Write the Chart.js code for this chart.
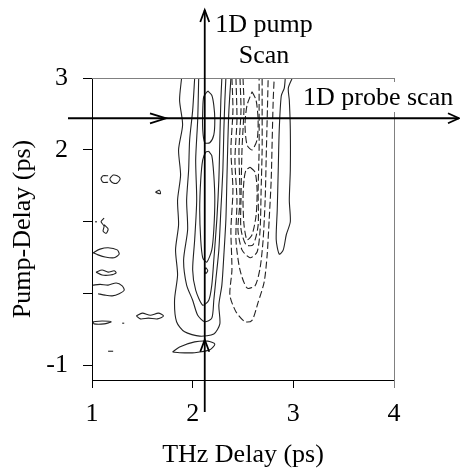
<!DOCTYPE html>
<html>
<head>
<meta charset="utf-8">
<script src="https://cdn.jsdelivr.net/npm/chart.js@4.4.1/dist/chart.umd.min.js"></script>
<style>
  html, body { margin: 0; padding: 0; background: #fff; }
  canvas { display: block; }
</style>
</head>
<body>
<canvas id="contourChart" width="460" height="471"></canvas>
<script>
// Axis ticks
var yTicks = [-1, 0, 1, 2, 3];
var yTickLabels = [-1, 2, 3];

// Where the two 1D scans cut through the map
var pumpScanAt = 2.12;   // THz delay of the 1D pump scan
var probeScanAt = 2.44;  // pump delay of the 1D probe scan
var pumpArrowTip = -0.64;

// Positive contours (solid), points are [THz delay, pump delay]
var pos1 = [[1.89,3.0],[1.87,2.69],[1.9,2.35],[1.86,2.0],[1.88,1.65],[1.85,1.3],[1.86,0.96],[1.83,0.61],[1.85,0.26],[1.82,-0.09],[1.84,-0.39],[1.92,-0.53],[2.07,-0.59],[2.21,-0.56],[2.27,-0.42],[2.26,-0.16],[2.29,0.12],[2.31,0.54],[2.33,1.03],[2.34,1.58],[2.35,2.14],[2.36,2.55],[2.38,3.0]];
var pos2 = [[2.02,3.0],[2.0,2.55],[1.97,2.14],[1.96,1.72],[1.94,1.3],[1.95,0.89],[1.91,0.47],[1.94,0.12],[2.0,-0.09],[2.05,-0.3],[2.12,-0.39],[2.19,-0.34],[2.21,-0.09],[2.23,0.19],[2.26,0.61],[2.28,1.16],[2.3,1.72],[2.31,2.28],[2.32,2.69],[2.33,3.0]];
var pos3 = [[2.06,3.0],[2.05,2.42],[2.03,1.86],[2.04,1.3],[2.02,0.75],[2.0,0.33],[2.03,0.05],[2.1,-0.16],[2.16,-0.09],[2.19,0.12],[2.21,0.47],[2.24,1.03],[2.26,1.58],[2.27,2.14],[2.28,2.69],[2.29,3.0]];
var pos4a = [[2.15,2.82],[2.19,2.76],[2.21,2.62],[2.22,2.42],[2.21,2.21],[2.17,2.1],[2.12,2.1],[2.1,2.28],[2.1,2.55],[2.11,2.74],[2.15,2.82]];
var pos4b = [[2.16,1.98],[2.19,1.92],[2.21,1.65],[2.22,1.3],[2.21,0.89],[2.19,0.61],[2.14,0.44],[2.1,0.5],[2.08,0.75],[2.07,1.16],[2.08,1.58],[2.1,1.86],[2.13,1.97],[2.16,1.98]];
var posDot = [[2.12,0.32],[2.13,0.36],[2.15,0.32],[2.13,0.28],[2.12,0.32]];
var posLens = [[1.8,-0.81],[1.87,-0.74],[2.02,-0.67],[2.15,-0.66],[2.22,-0.7],[2.17,-0.78],[2.02,-0.82],[1.87,-0.82],[1.8,-0.81]];
var posRight = [[2.92,3.0],[2.91,2.86],[2.88,2.75],[2.86,2.28],[2.85,1.72],[2.84,1.16],[2.83,0.75],[2.86,0.55],[2.9,0.61],[2.93,0.82],[2.97,1.0],[2.96,1.3],[2.97,1.72],[2.97,2.28],[2.96,2.69],[2.95,2.86],[2.99,3.0]];

// Small noise contours near the left edge
var noiseA = [[1.16,1.64],[1.11,1.64],[1.09,1.6],[1.11,1.55],[1.16,1.55]];
var noiseB = [[1.18,1.61],[1.21,1.65],[1.25,1.64],[1.28,1.6],[1.25,1.54],[1.21,1.54],[1.18,1.58],[1.18,1.61]];
var noiseC = [[1.63,1.41],[1.67,1.44],[1.68,1.39],[1.63,1.41]];
var noiseD = [[1.12,1.05],[1.09,1.0],[1.12,0.94],[1.11,0.87],[1.14,0.84],[1.16,0.9],[1.12,0.96]];
var noiseE = [[1.03,1.0],[1.05,1.0]];
var noiseF = [[1.01,0.57],[1.08,0.62],[1.16,0.64],[1.25,0.61],[1.27,0.55],[1.22,0.5],[1.13,0.51],[1.06,0.54],[1.01,0.57]];
var noiseG = [[1.04,0.3],[1.1,0.33],[1.16,0.3],[1.22,0.32],[1.24,0.29],[1.18,0.26],[1.1,0.26],[1.04,0.3]];
var noiseH = [[1.01,0.12],[1.08,0.13],[1.16,0.12],[1.24,0.15],[1.3,0.11],[1.32,0.05],[1.27,0.0],[1.2,-0.03],[1.13,-0.02],[1.06,0.0]];
var noiseI = [[1.01,-0.39],[1.1,-0.38],[1.19,-0.39],[1.12,-0.42],[1.02,-0.42],[1.01,-0.39]];
var noiseJ = [[1.3,-0.41],[1.32,-0.41]];
var noiseK = [[1.44,-0.31],[1.5,-0.27],[1.58,-0.3],[1.66,-0.27],[1.71,-0.31],[1.65,-0.35],[1.56,-0.34],[1.48,-0.35],[1.44,-0.31]];
var noiseL = [[1.16,-0.8],[1.21,-0.8]];

// Negative contours (dashed)
var neg1 = [[2.39,3.0],[2.4,2.55],[2.38,2.0],[2.4,1.44],[2.38,0.89],[2.39,0.33],[2.37,-0.02],[2.43,-0.25],[2.52,-0.39],[2.59,-0.37],[2.65,-0.12],[2.71,0.16],[2.74,0.54],[2.76,1.03],[2.78,1.58],[2.79,2.14],[2.8,2.69],[2.81,3.0]];
var neg2 = [[2.43,3.0],[2.44,2.42],[2.42,1.86],[2.44,1.3],[2.43,0.75],[2.47,0.33],[2.54,0.08],[2.62,0.11],[2.67,0.36],[2.7,0.75],[2.72,1.3],[2.73,1.86],[2.74,2.42],[2.75,3.0]];
var neg3 = [[2.47,3.0],[2.48,2.55],[2.46,2.0],[2.47,1.3],[2.45,0.89],[2.49,0.61],[2.57,0.5],[2.64,0.58],[2.67,0.89],[2.68,1.44],[2.69,2.0],[2.69,2.55],[2.69,3.0]];
var neg3b = [[2.5,3.0],[2.51,2.6],[2.49,2.0],[2.48,1.3],[2.48,0.9],[2.53,0.68],[2.6,0.68],[2.65,0.95],[2.65,1.44],[2.66,2.0],[2.66,2.6],[2.66,3.0]];
var neg4a = [[2.59,2.81],[2.63,2.69],[2.65,2.42],[2.64,2.14],[2.59,2.0],[2.54,2.07],[2.52,2.35],[2.54,2.62],[2.59,2.81]];
var neg4b = [[2.57,1.76],[2.62,1.69],[2.64,1.44],[2.63,1.09],[2.59,0.82],[2.54,0.75],[2.51,0.96],[2.5,1.3],[2.51,1.58],[2.53,1.72],[2.57,1.76]];

var solidContours = [pos1, pos2, pos3, pos4a, pos4b, posDot, posLens, posRight,
    noiseA, noiseB, noiseC, noiseD, noiseE, noiseF, noiseG, noiseH, noiseI, noiseJ, noiseK, noiseL];
var dashedContours = [neg1, neg2, neg3, neg3b, neg4a, neg4b];

var serif = '"Liberation Serif", "Times New Roman", serif';

function contourSet(points, dash) {
    return {
        data: points.map(function(p) { return { x: p[0], y: p[1] }; }),
        showLine: true,
        borderColor: "#222",
        borderWidth: 1.1,
        borderDash: dash,
        pointRadius: 0,
        tension: 0.25,
        fill: false,
    };
}

var datasets = solidContours.map(function(c) { return contourSet(c, []); })
    .concat(dashedContours.map(function(c) { return contourSet(c, [7, 3]); }));

function arrowHead(ctx, tipX, tipY, dx, dy, len, half) {
    ctx.beginPath();
    ctx.moveTo(tipX - dx * len - dy * half, tipY - dy * len + dx * half);
    ctx.lineTo(tipX, tipY);
    ctx.lineTo(tipX - dx * len + dy * half, tipY - dy * len - dx * half);
    ctx.stroke();
}

// Frame, scan arrows and their labels
var scanMarks = {
    id: "scanMarks",
    afterDraw: function(chart) {
        var ctx = chart.ctx;
        var area = chart.chartArea;
        var xs = chart.scales.x, ys = chart.scales.y;
        ctx.save();

        ctx.strokeStyle = "#808080";
        ctx.lineWidth = 1;
        ctx.beginPath();
        ctx.moveTo(area.left, Math.round(area.top) + 0.5);
        ctx.lineTo(area.right, Math.round(area.top) + 0.5);
        ctx.moveTo(Math.round(area.right) + 0.5, area.top);
        ctx.lineTo(Math.round(area.right) + 0.5, area.bottom + 8);
        ctx.stroke();

        ctx.fillStyle = "#fff";
        ctx.fillRect(300, 82, 160, 30);

        ctx.fillStyle = "#000";
        ctx.font = "26px " + serif;
        ctx.textBaseline = "alphabetic";
        ctx.textAlign = "center";
        ctx.fillText("1D pump", 264, 32);
        ctx.fillText("Scan", 264, 63);
        ctx.textAlign = "left";
        ctx.fillText("1D probe scan", 303, 105);

        ctx.strokeStyle = "#000";
        ctx.lineWidth = 1.8;
        var px = xs.getPixelForValue(pumpScanAt);
        ctx.beginPath();
        ctx.moveTo(px, 10);
        ctx.lineTo(px, 412);
        ctx.stroke();
        arrowHead(ctx, px, 10, 0, -1, 12, 4.5);
        arrowHead(ctx, px, ys.getPixelForValue(pumpArrowTip), 0, -1, 12, 4.5);

        var py = ys.getPixelForValue(probeScanAt);
        ctx.beginPath();
        ctx.moveTo(68, py);
        ctx.lineTo(459, py);
        ctx.stroke();
        arrowHead(ctx, 166, py, 1, 0, 16, 5);
        arrowHead(ctx, 459, py, 1, 0, 11, 5);

        ctx.restore();
    }
};

var contourChart = new Chart(document.getElementById("contourChart").getContext("2d"), {
    type: "scatter",
    data: { datasets: datasets },
    options: {
        responsive: false,
        animation: false,
        devicePixelRatio: 1,
        layout: { padding: { top: 78, right: 66, left: 0, bottom: 0 } },
        plugins: {
            legend: { display: false },
            tooltip: { enabled: false },
        },
        scales: {
            x: {
                type: "linear",
                min: 1,
                max: 4,
                afterFit: function(s) { s.height = 91; },
                ticks: { stepSize: 1, color: "#000", padding: 11, font: { family: serif, size: 26 } },
                grid: { drawOnChartArea: false, tickLength: 8, color: "#000" },
                border: { color: "#000", width: 1 },
                title: {
                    display: true,
                    text: "THz Delay (ps)",
                    color: "#000",
                    font: { family: serif, size: 26 },
                    padding: { top: 0, bottom: 0 },
                },
            },
            y: {
                type: "linear",
                min: -1.2,
                max: 3,
                afterFit: function(s) { s.width = 92; },
                afterBuildTicks: function(s) {
                    s.ticks = yTicks.map(function(v) { return { value: v }; });
                },
                ticks: {
                    color: "#000",
                    padding: 15,
                    font: { family: serif, size: 26 },
                    callback: function(v) { return yTickLabels.indexOf(v) >= 0 ? String(v) : ""; },
                },
                grid: { drawOnChartArea: false, tickLength: 9, color: "#000" },
                border: { color: "#000", width: 1 },
                title: {
                    display: true,
                    text: "Pump-Delay (ps)",
                    color: "#000",
                    font: { family: serif, size: 26 },
                    padding: { top: 8, bottom: 0 },
                },
            },
        },
    },
    plugins: [scanMarks],
});
</script>
</body>
</html>
